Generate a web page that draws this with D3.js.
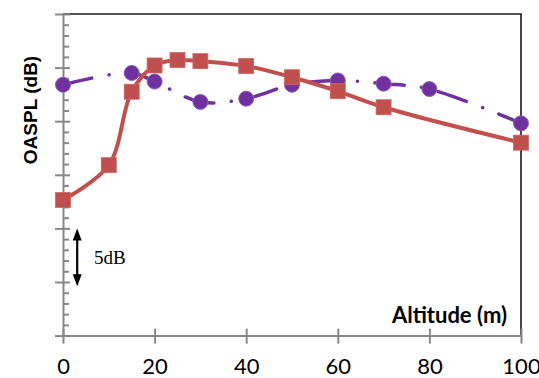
<!DOCTYPE html>
<html>
<head>
<meta charset="utf-8">
<script src="https://cdn.jsdelivr.net/npm/d3@7"></script>
<style>
  body { margin: 0; background: #fff; }
  svg { display: block; }
</style>
</head>
<body>
<div id="chart"></div>
<script>
// altitude (m) and relative OASPL (dB, axis has no labels)
var altRed = [0, 10, 15, 20, 25, 30, 40, 50, 60, 70, 100];
var splRed = [12.65, 15.9, 22.75, 25.2, 25.7, 25.6, 25.15, 24.1, 22.8, 21.3, 18.0];
var altPurple = [0, 15, 20, 30, 40, 50, 60, 70, 80, 100];
var splPurple = [23.4, 24.5, 23.7, 21.8, 22.1, 23.4, 23.8, 23.5, 23.0, 19.8];
var xTicks = [0, 20, 40, 60, 80, 100];
var yMajor = [0, 5, 10, 15, 20, 25, 30];

var width = 539, height = 378;
var plotL = 63, plotR = 521, plotT = 14, plotB = 335.6;

var svg = d3.select("#chart").append("svg")
  .attr("width", width)
  .attr("height", height);

var x = d3.scaleLinear().domain([0, 100]).range([plotL, plotR]);
var y = d3.scaleLinear().domain([0, 30]).range([plotB, plotT]);

// frame top + right
svg.append("path")
  .attr("d", "M" + plotL + "," + plotT + "H" + plotR + "V" + plotB)
  .attr("fill", "none")
  .attr("stroke", "#1a1a1a")
  .attr("stroke-width", 1.6);

// y axis, minor ticks inside
var yMinor = d3.range(0, 31).filter(function(d) { return d % 5 != 0; });
svg.append("g")
  .attr("transform", "translate(" + plotL + ",0)")
  .call(d3.axisLeft(y).tickValues(yMinor).tickSize(-6).tickSizeOuter(0).tickFormat(""))
  .call(function(g) { g.select(".domain").remove(); });

var yAxis = svg.append("g")
  .attr("transform", "translate(" + plotL + ",0)")
  .call(d3.axisLeft(y).tickValues(yMajor).tickSize(8).tickSizeOuter(0).tickFormat(""));
yAxis.selectAll(".tick line").attr("x1", 7);

// x axis, ticks crossing
var xAxis = svg.append("g")
  .attr("transform", "translate(0," + plotB + ")")
  .call(d3.axisBottom(x).tickValues(xTicks).tickSize(8).tickSizeOuter(0).tickPadding(15));
xAxis.selectAll(".tick line").attr("y1", -7);
xAxis.selectAll(".tick text")
  .style("font-family", "Lato, 'Open Sans', sans-serif")
  .style("font-size", "22px")
  .attr("fill", "#000");

svg.selectAll(".domain, .tick line")
  .attr("stroke", "#878787")
  .attr("stroke-width", 2);

var purple = altPurple.map(function(a, i) { return [a, splPurple[i]]; });
var red = altRed.map(function(a, i) { return [a, splRed[i]]; });

var line = d3.line()
  .x(function(d) { return x(d[0]); })
  .y(function(d) { return y(d[1]); })
  .curve(d3.curveCatmullRom.alpha(0.5));

// purple series, dash-dot smooth
svg.append("path")
  .datum(purple)
  .attr("d", line)
  .attr("fill", "none")
  .attr("stroke", "#7030a0")
  .attr("stroke-width", 3.5)
  .attr("stroke-linecap", "round")
  .attr("stroke-dasharray", "29.5,17.4,0.1,17.4");

svg.selectAll(".pt")
  .data(purple)
  .enter().append("circle")
  .attr("class", "pt")
  .attr("cx", function(d) { return x(d[0]); })
  .attr("cy", function(d) { return y(d[1]); })
  .attr("r", 7.5)
  .attr("fill", "#7030a0")
  .attr("stroke", "#8b62b5")
  .attr("stroke-width", 1);

// red series
svg.append("path")
  .datum(red)
  .attr("d", line)
  .attr("fill", "none")
  .attr("stroke", "#c0504d")
  .attr("stroke-width", 4);

var sq = 15;
svg.selectAll(".sq")
  .data(red)
  .enter().append("rect")
  .attr("class", "sq")
  .attr("x", function(d) { return x(d[0]) - sq / 2; })
  .attr("y", function(d) { return y(d[1]) - sq / 2; })
  .attr("width", sq)
  .attr("height", sq)
  .attr("fill", "#c0504d")
  .attr("stroke", "#cc6663")
  .attr("stroke-width", 0.8);

// 5 dB scale arrow
var ax = x(3.1), y1 = y(10), y2 = y(4.6);
svg.append("line")
  .attr("x1", ax).attr("x2", ax)
  .attr("y1", y1 + 8).attr("y2", y2 - 8)
  .attr("stroke", "#000")
  .attr("stroke-width", 2.2);
svg.append("path")
  .attr("d", "M" + ax + "," + y1 + "l-4.5,12h9z")
  .attr("fill", "#000");
svg.append("path")
  .attr("d", "M" + ax + "," + y2 + "l-4.5,-12h9z")
  .attr("fill", "#000");
svg.append("text")
  .attr("x", 94)
  .attr("y", 264)
  .style("font-family", "'Liberation Serif', 'Times New Roman', serif")
  .style("font-size", "19px")
  .text("5dB");

// axis titles
svg.append("text")
  .attr("transform", "translate(36.5,110) rotate(-90)")
  .attr("text-anchor", "middle")
  .style("font-family", "'Liberation Sans', Arial, sans-serif")
  .style("font-size", "19px")
  .style("font-weight", "bold")
  .text("OASPL (dB)");

svg.append("text")
  .attr("x", 507)
  .attr("y", 322.7)
  .attr("text-anchor", "end")
  .style("font-family", "Lato, 'Open Sans', sans-serif")
  .style("font-size", "22px")
  .style("font-weight", "bold")
  .text("Altitude (m)");
</script>
</body>
</html>
